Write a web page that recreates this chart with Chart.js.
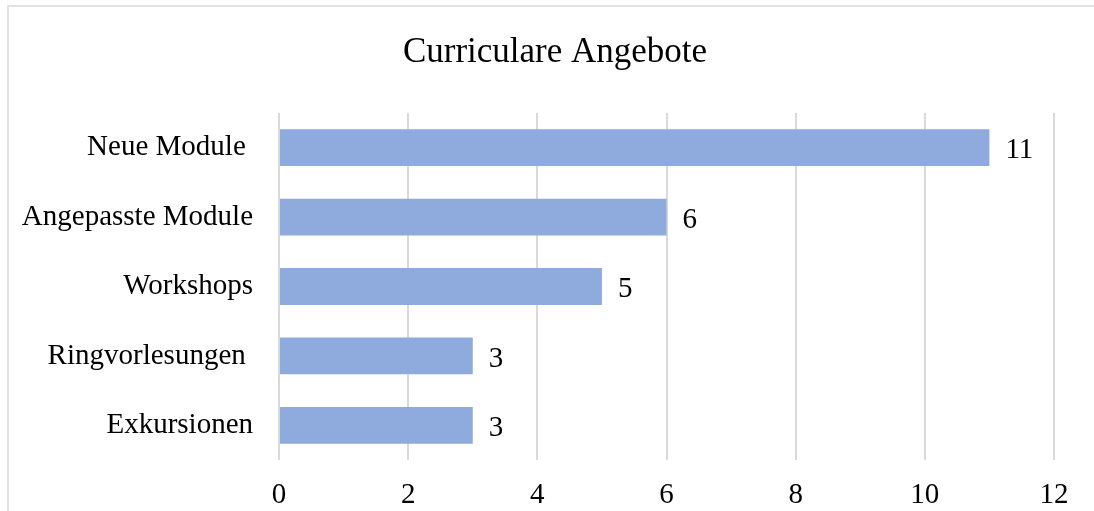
<!DOCTYPE html>
<html>
<head>
<meta charset="utf-8">
<script src="https://cdn.jsdelivr.net/npm/chart.js@4/dist/chart.umd.min.js"></script>
<style>
    html, body { margin: 0; padding: 0; background: #fff; overflow: hidden; }
    .frame {
        position: absolute; left: 7px; top: 5px;
        width: 1200px; height: 600px;
        border: 2px solid #e2e2e2;
    }
    .wrap { position: absolute; left: 0; top: 0; width: 1094px; height: 511px; }
</style>
</head>
<body>
<div class="frame"></div>
<div class="wrap"><canvas id="chart"></canvas></div>
<script>
// Data
const categories = ['Neue Module ', 'Angepasste Module', 'Workshops', 'Ringvorlesungen ', 'Exkursionen'];
const values = [11, 6, 5, 3, 3];
const xTicks = [0, 2, 4, 6, 8, 10, 12];
const chartTitle = 'Curriculare Angebote';

const serif = '"Liberation Serif", "Times New Roman", serif';

// value labels at the end of each bar + title (the title sits a bit right of the canvas centre)
const extraText = {
    id: 'extraText',
    afterDatasetsDraw(chart) {
        const ctx = chart.ctx;
        const meta = chart.getDatasetMeta(0);
        ctx.save();
        ctx.font = '29px ' + serif;
        ctx.fillStyle = '#000';
        ctx.textAlign = 'left';
        ctx.textBaseline = 'middle';
        meta.data.forEach((bar, i) => {
            ctx.fillText(String(values[i]), bar.x + 16, bar.y + 3);
        });

        ctx.font = '35px ' + serif;
        ctx.textAlign = 'center';
        ctx.fillText(chartTitle, 555, 53);
        ctx.restore();
    }
};

new Chart(document.getElementById('chart'), {
    type: 'bar',
    data: {
        labels: categories,
        datasets: [{
            data: values,
            backgroundColor: '#8faadc',
            borderWidth: 0,
            categoryPercentage: 1,
            barPercentage: 0.53
        }]
    },
    options: {
        indexAxis: 'y',
        responsive: true,
        maintainAspectRatio: false,
        animation: false,
        layout: { padding: { left: 0, right: 40, top: 113, bottom: 0 } },
        plugins: {
            legend: { display: false },
            tooltip: { enabled: false },
            title: { display: false }
        },
        scales: {
            x: {
                min: 0,
                max: 12,
                afterBuildTicks(axis) {
                    axis.ticks = xTicks.map(v => ({ value: v }));
                },
                afterFit(axis) { axis.height = 51; },
                grid: { color: '#d9d9d9', lineWidth: 2, drawTicks: false },
                border: { display: false },
                ticks: {
                    color: '#000',
                    font: { family: serif, size: 29 },
                    padding: 18
                }
            },
            y: {
                afterFit(axis) { axis.width = 279; },
                grid: { display: false },
                border: { display: false },
                ticks: {
                    color: '#000',
                    font: { family: serif, size: 29, lineHeight: 1.35 },
                    padding: 18
                }
            }
        }
    },
    plugins: [extraText]
});
</script>
</body>
</html>
